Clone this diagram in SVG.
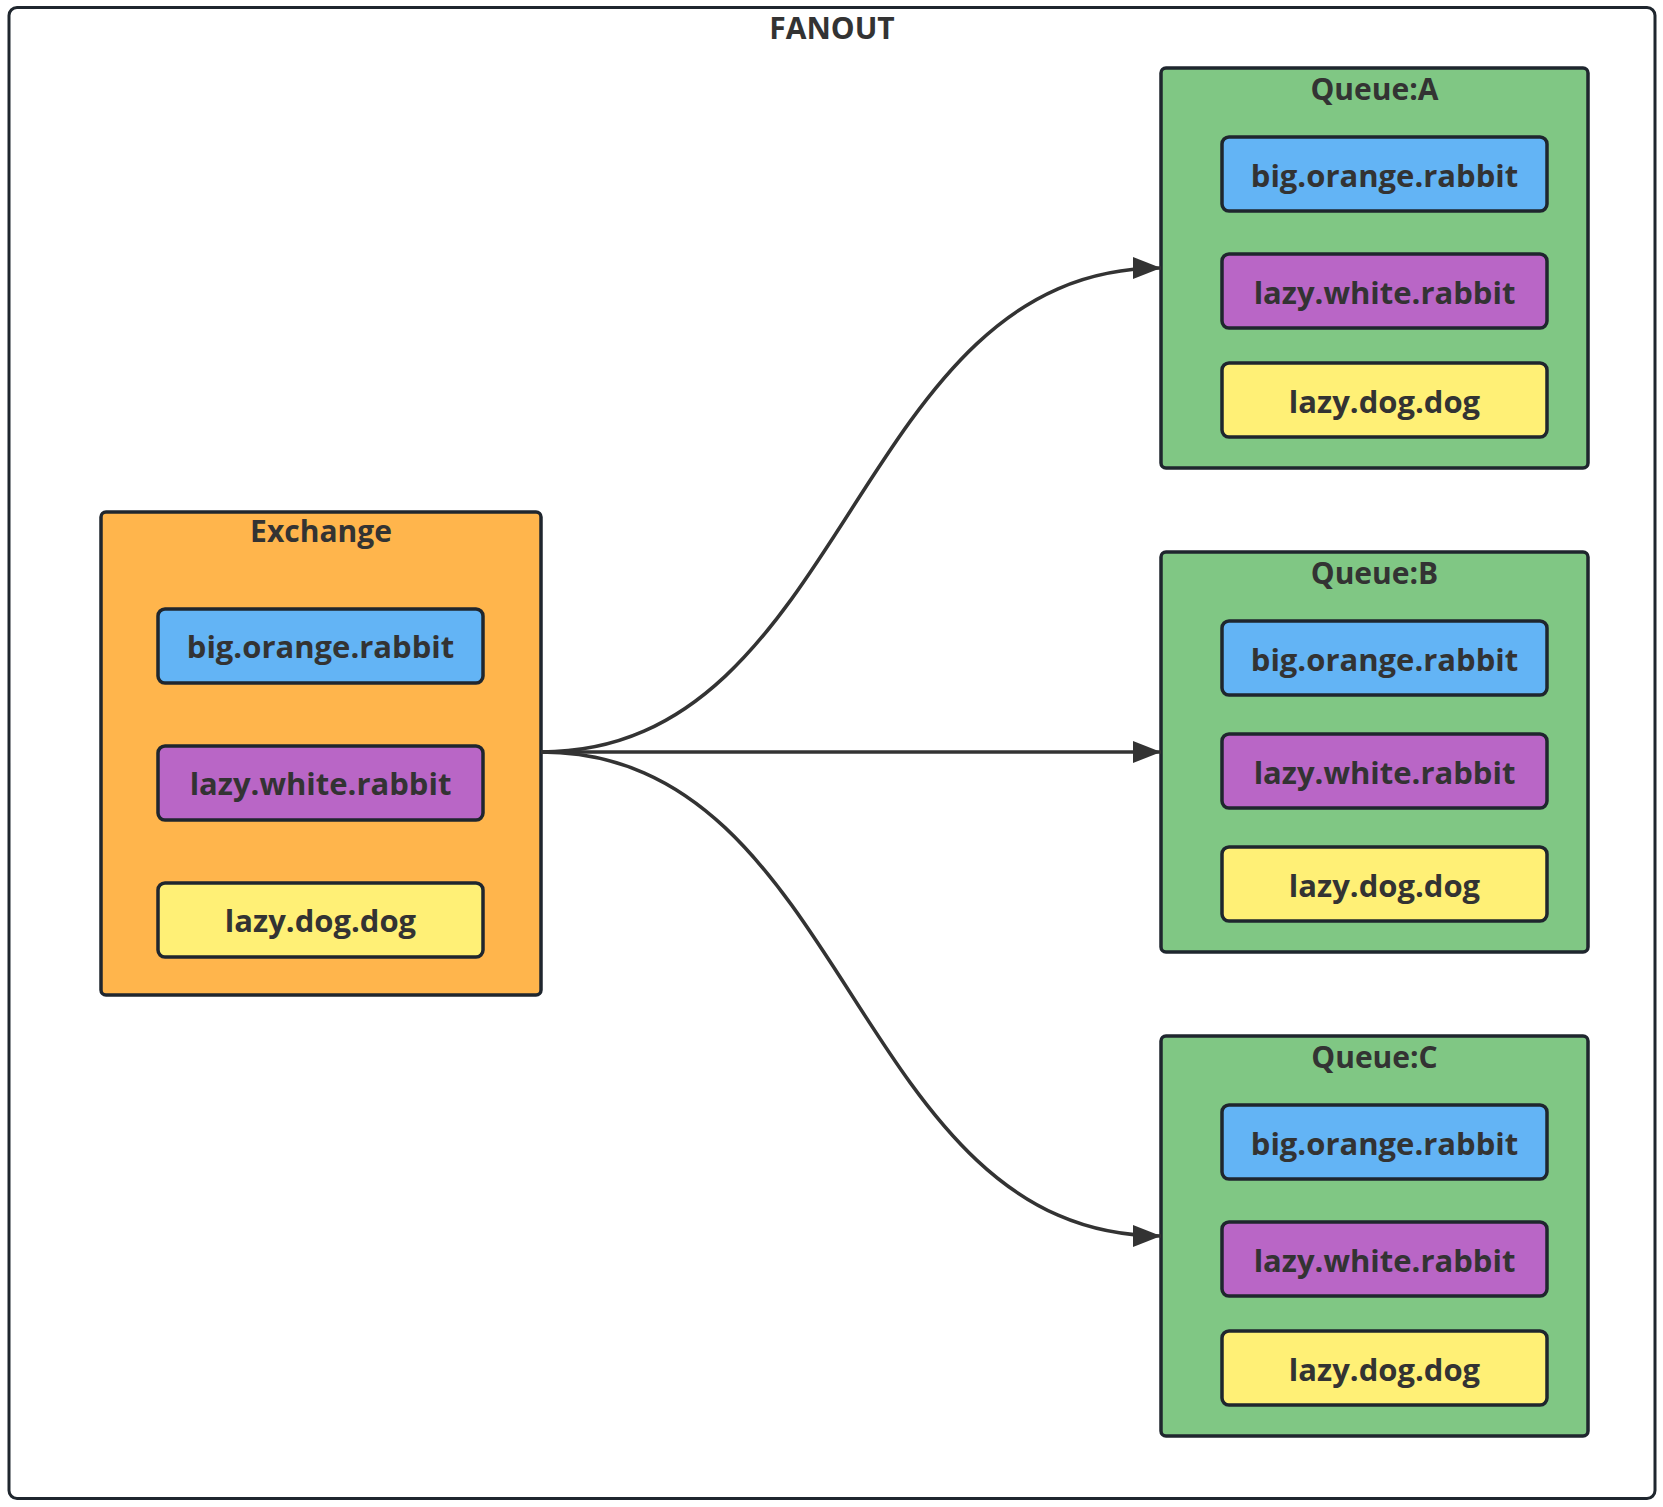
<svg xmlns="http://www.w3.org/2000/svg" width="1663" height="1507" viewBox="0 0 1663 1507">
<style>
.frame{fill:#ffffff;stroke:#1f262e;stroke-width:3}
.queue{fill:#80c784;stroke:#1f262e;stroke-width:3.5}
.exch{fill:#ffb54c;stroke:#1f262e;stroke-width:3.5}
.blue{fill:#63b4f5;stroke:#1f262e;stroke-width:3.5}
.purple{fill:#b966c6;stroke:#1f262e;stroke-width:3.5}
.yellow{fill:#fff076;stroke:#1f262e;stroke-width:3.5}
text{font-family:"Open Sans","Noto Sans","DejaVu Sans",sans-serif;font-weight:bold;fill:#333333;text-anchor:middle}
.title{font-size:30px}
.item{font-size:31px}
.edge{fill:none;stroke:#333333;stroke-width:3.5}
</style>
<defs>
<marker id="arrow" markerUnits="userSpaceOnUse" markerWidth="30" markerHeight="22" refX="28" refY="11" orient="auto">
<path d="M0,0 L28,11 L0,22 Z" fill="#333333"/>
</marker>
</defs>
<g id="fanout">
<rect class="frame" x="9" y="7.5" width="1646" height="1491" rx="8"/>
<text class="title" x="832" y="39">FANOUT</text>
</g>
<g id="exchange">
<rect class="exch" x="101" y="512" width="440" height="483" rx="5"/>
<text class="title" x="321" y="542">Exchange</text>
<rect class="blue" x="158" y="609" width="325" height="74" rx="7"/>
<text class="item" x="320.5" y="658">big.orange.rabbit</text>
<rect class="purple" x="158" y="746" width="325" height="74" rx="7"/>
<text class="item" x="320.5" y="795">lazy.white.rabbit</text>
<rect class="yellow" x="158" y="883" width="325" height="74" rx="7"/>
<text class="item" x="320.5" y="932">lazy.dog.dog</text>
</g>
<g id="queueA">
<rect class="queue" x="1161" y="68" width="427" height="400" rx="5"/>
<text class="title" x="1374.5" y="100">Queue:A</text>
<rect class="blue" x="1222" y="137" width="325" height="74" rx="7"/>
<text class="item" x="1384.5" y="187">big.orange.rabbit</text>
<rect class="purple" x="1222" y="254" width="325" height="74" rx="7"/>
<text class="item" x="1384.5" y="304">lazy.white.rabbit</text>
<rect class="yellow" x="1222" y="363" width="325" height="74" rx="7"/>
<text class="item" x="1384.5" y="413">lazy.dog.dog</text>
</g>
<g id="queueB">
<rect class="queue" x="1161" y="552" width="427" height="400" rx="5"/>
<text class="title" x="1374.5" y="584">Queue:B</text>
<rect class="blue" x="1222" y="621" width="325" height="74" rx="7"/>
<text class="item" x="1384.5" y="671">big.orange.rabbit</text>
<rect class="purple" x="1222" y="734" width="325" height="74" rx="7"/>
<text class="item" x="1384.5" y="784">lazy.white.rabbit</text>
<rect class="yellow" x="1222" y="847" width="325" height="74" rx="7"/>
<text class="item" x="1384.5" y="897">lazy.dog.dog</text>
</g>
<g id="queueC">
<rect class="queue" x="1161" y="1036" width="427" height="400" rx="5"/>
<text class="title" x="1374.5" y="1068">Queue:C</text>
<rect class="blue" x="1222" y="1105" width="325" height="74" rx="7"/>
<text class="item" x="1384.5" y="1155">big.orange.rabbit</text>
<rect class="purple" x="1222" y="1222" width="325" height="74" rx="7"/>
<text class="item" x="1384.5" y="1272">lazy.white.rabbit</text>
<rect class="yellow" x="1222" y="1331" width="325" height="74" rx="7"/>
<text class="item" x="1384.5" y="1381">lazy.dog.dog</text>
</g>
<g id="connectors">
<path class="edge" d="M541,752 C851,752 851,268 1161,268" marker-end="url(#arrow)"/>
<path class="edge" d="M541,752 L1161,752" marker-end="url(#arrow)"/>
<path class="edge" d="M541,752 C851,752 851,1236 1161,1236" marker-end="url(#arrow)"/>
</g>
</svg>
